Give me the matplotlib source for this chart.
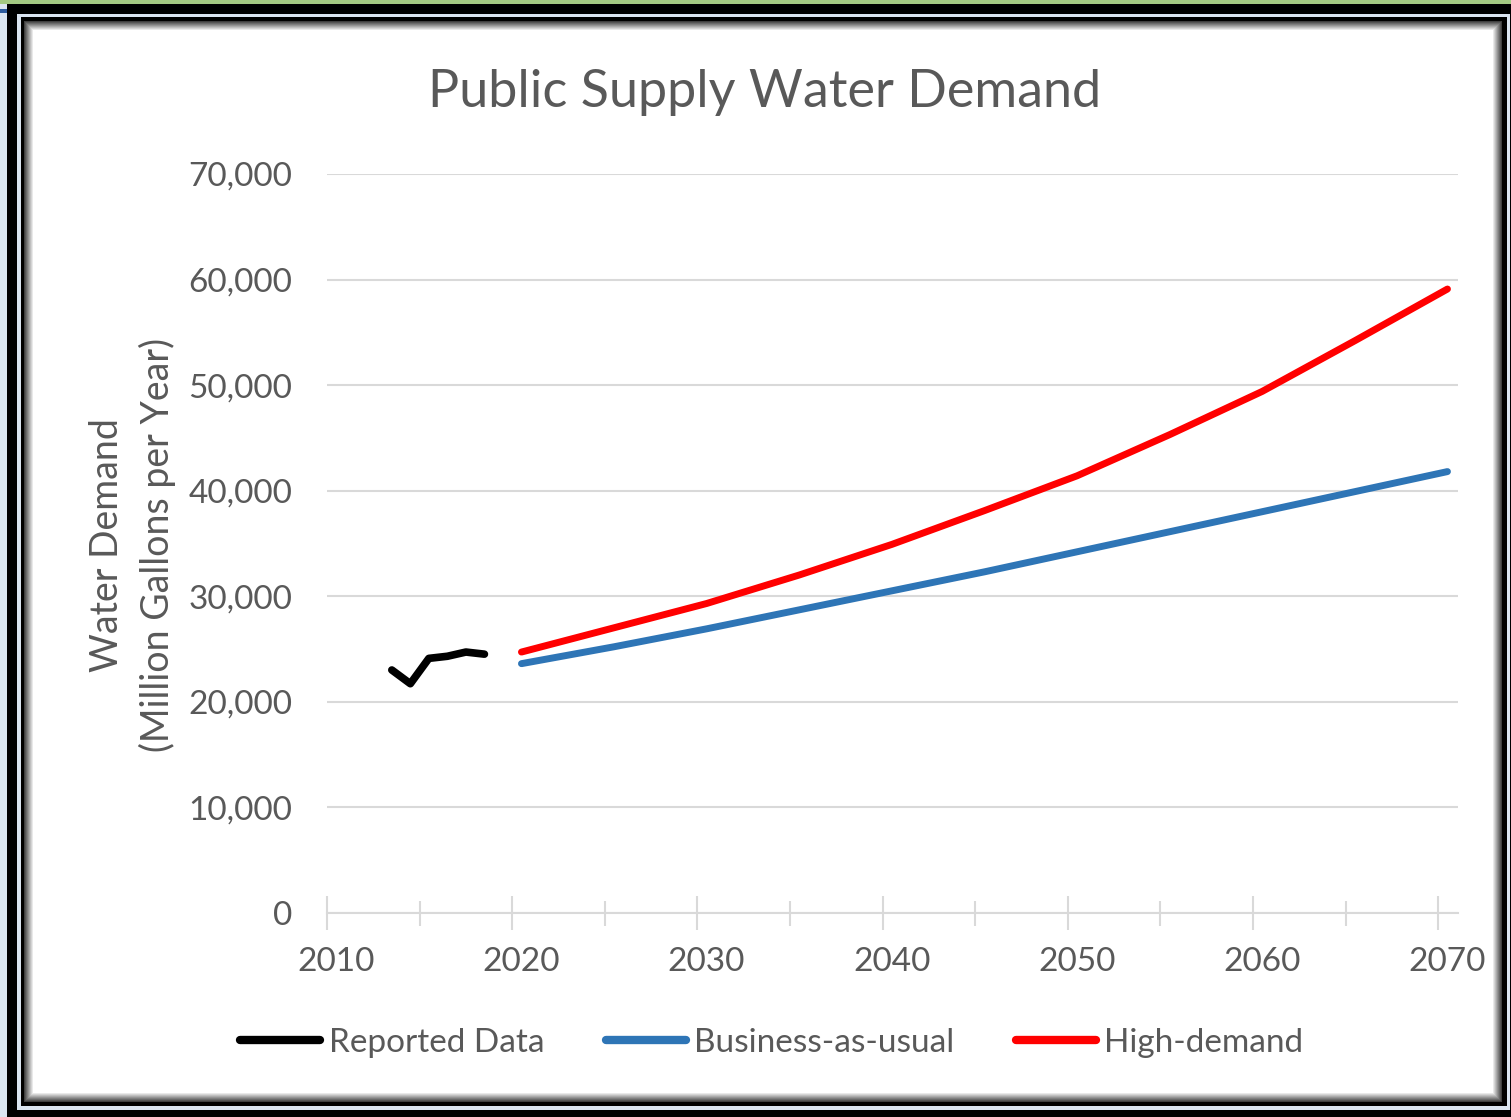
import numpy as np
import matplotlib
matplotlib.use("Agg")
import matplotlib.pyplot as plt
import matplotlib.transforms as mtransforms
from matplotlib.patches import Rectangle
from matplotlib.ticker import MultipleLocator, FuncFormatter

# ---- data ----
reported_years = [2013, 2014, 2015, 2016, 2017, 2018]
reported_vals = [23000, 21700, 24100, 24300, 24700, 24500]

proj_years = [2020, 2025, 2030, 2035, 2040, 2045, 2050, 2055, 2060, 2065, 2070]
bau_vals = [23600, 25200, 26900, 28700, 30500, 32300, 34200, 36100, 38000, 39900, 41800]
high_vals = [24700, 27000, 29300, 32000, 34900, 38100, 41400, 45300, 49400, 54200, 59100]

series_labels = ["Reported Data", "Business-as-usual", "High-demand"]
series_colors = ["#000000", "#2E75B6", "#FF0000"]

title = "Public Supply Water Demand"
ylabel_lines = ["Water Demand", "(Million Gallons per Year)"]

W, H = 1511, 1117
fig = plt.figure(figsize=(W / 100, H / 100), dpi=100)
fig.patch.set_facecolor("#dbe5f1")

def prect(x0, y0, x1, y1, color, z=0):
    r = Rectangle((x0 / W, 1 - y1 / H), (x1 - x0) / W, (y1 - y0) / H,
                  transform=fig.transFigure, facecolor=color, edgecolor="none",
                  zorder=z)
    fig.patches.append(r)

# decorative frame
prect(0, 0, W, 3.5, "#a3c982")
prect(0, 9.5, 7, 13, "#2e5c9e")
prect(7, 3.5, W, H, "#000000")
prect(17, 14, 1510, 1109.5, "#dbe5f1")
prect(20.5, 17, 1506.5, 1106, "#000000")

# inner shadowed white panel
x0, y0, x1, y1 = 24, 21, 1502, 1102
ph, pw = y1 - y0, x1 - x0
yy, xx = np.mgrid[0:ph, 0:pw]
d = np.minimum(np.minimum(xx, pw - 1 - xx), np.minimum(yy, ph - 1 - yy)).astype(float)
v = np.clip(0.25 + 0.75 * (d / 9.0), 0, 1)
img = np.dstack([v, v, v])
fig.figimage(img, xo=x0, yo=H - y1, origin="upper", zorder=1)

# axes
L, R, T, B = 327, 1457.5, 174, 912.7
ax = fig.add_axes([L / W, 1 - B / H, (R - L) / W, (B - T) / H])
ax.set_zorder(2)
ax.patch.set_visible(False)

off = 0.5
ax.plot(np.array(reported_years) + off, reported_vals, color=series_colors[0],
        lw=5.5, solid_capstyle="round", solid_joinstyle="round", label=series_labels[0])
ax.plot(np.array(proj_years) + off, bau_vals, color=series_colors[1],
        lw=5, solid_capstyle="round", solid_joinstyle="round", label=series_labels[1])
ax.plot(np.array(proj_years) + off, high_vals, color=series_colors[2],
        lw=5, solid_capstyle="round", solid_joinstyle="round", label=series_labels[2])

ax.set_xlim(2010, 2010 + (R - L) / 18.52)
ax.set_ylim(0, 70000)

FONT = "Lato"
TXT = "#595959"
GRID = "#d9d9d9"

for s in ["top", "right", "left"]:
    ax.spines[s].set_visible(False)
ax.spines["bottom"].set_color(GRID)
ax.spines["bottom"].set_linewidth(1.5)

ax.yaxis.set_major_locator(MultipleLocator(10000))
ax.yaxis.set_major_formatter(FuncFormatter(lambda v, p: f"{int(v):,}"))
ax.xaxis.set_major_locator(MultipleLocator(10))
ax.xaxis.set_minor_locator(MultipleLocator(5))
ax.xaxis.set_major_formatter(FuncFormatter(lambda v, p: f"{int(round(v))}"))

ax.grid(axis="y", color=GRID, lw=1.5)
ax.set_axisbelow(True)
ax.tick_params(axis="y", length=0, pad=25, labelsize=24, labelcolor=TXT)
ax.tick_params(axis="x", which="major", direction="inout", length=24, width=1.5,
               color=GRID, pad=13, labelsize=24, labelcolor=TXT)
ax.tick_params(axis="x", which="minor", direction="inout", length=18, width=1.5,
               color=GRID)
shift = mtransforms.ScaledTranslation(9 / 100, 0, fig.dpi_scale_trans)
for lab in ax.get_xticklabels():
    lab.set_fontfamily(FONT)
    lab.set_transform(lab.get_transform() + shift)
for lab in ax.get_yticklabels():
    lab.set_fontfamily(FONT)

# title and y label
fig.text(765 / W, 1 - 93 / H, title, ha="center", va="center", fontsize=37.5,
         color=TXT, family=FONT)
fig.text(107 / W, 1 - 545 / H, ylabel_lines[0], rotation=90, ha="center",
         va="center", fontsize=27, color=TXT, family=FONT)
fig.text(157 / W, 1 - 545 / H, ylabel_lines[1], rotation=90, ha="center",
         va="center", fontsize=27, color=TXT, family=FONT)

leg = fig.legend(loc="center", bbox_to_anchor=(772 / W, 1 - 1043 / H), ncol=3,
                 frameon=False, fontsize=24, handlelength=2.4, handletextpad=0.25,
                 columnspacing=1.85, prop={"family": FONT, "size": 24})
for t in leg.get_texts():
    t.set_color(TXT)
for lh in leg.get_lines():
    lh.set_linewidth(6)
    lh.set_solid_capstyle("round")

fig.savefig("out.png", dpi=100)
